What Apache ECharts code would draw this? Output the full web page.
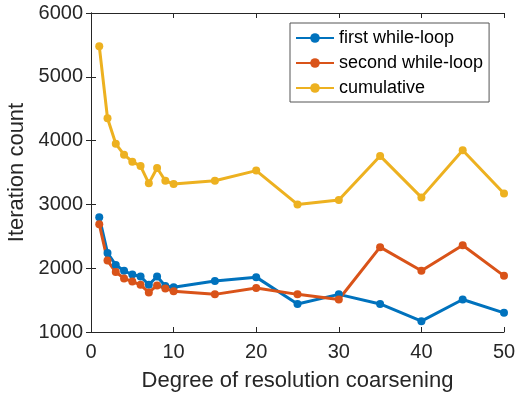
<!DOCTYPE html>
<html>
<head>
<meta charset="utf-8">
<script src="https://cdn.jsdelivr.net/npm/echarts@6/dist/echarts.min.js"></script>
<style>
  html, body { margin: 0; padding: 0; background: #fff; }
  #main { width: 515px; height: 399px; }
</style>
</head>
<body>
<div id="main"></div>
<script>
var degrees = [1, 2, 3, 4, 5, 6, 7, 8, 9, 10, 15, 20, 25, 30, 35, 40, 45, 50];
var firstLoop = [2800, 2240, 2050, 1960, 1900, 1870, 1740, 1870, 1720, 1700, 1800, 1860, 1440, 1590, 1440, 1170, 1510, 1300];
var secondLoop = [2690, 2120, 1940, 1840, 1790, 1740, 1620, 1730, 1680, 1640, 1590, 1690, 1590, 1510, 2330, 1960, 2360, 1880];
var cumulative = [5480, 4350, 3950, 3780, 3670, 3600, 3330, 3570, 3370, 3320, 3370, 3530, 3000, 3070, 3760, 3110, 3850, 3170];
var xTicks = [0, 10, 20, 30, 40, 50];
var yTicks = [1000, 2000, 3000, 4000, 5000, 6000];

var chartDom = document.getElementById("main");
var myChart = echarts.init(chartDom);
var font = "Liberation Sans";
var ink = "#262626";

function pairs(ys) {
    var out = [];
    for (let i = 0; i < degrees.length; i++) {
        out.push([degrees[i], ys[i]]);
    }
    return out;
}

function makeSeries(name, ys, color) {
    return {
        name: name,
        type: "line",
        xAxisIndex: 0,
        yAxisIndex: 0,
        data: pairs(ys),
        symbol: "circle",
        symbolSize: 8,
        lineStyle: { width: 3, color: color },
        itemStyle: { color: color },
        animation: false,
    };
}

var axisCommon = {
    type: "value",
    axisLine: { show: true, lineStyle: { color: ink, width: 1 } },
    axisTick: { show: true, inside: true, length: 5, lineStyle: { color: ink } },
    splitLine: { show: false },
};

var option = {
    backgroundColor: "#fff",
    textStyle: { fontFamily: font },
    grid: { left: 91, right: 11, top: 13, bottom: 67, outerBoundsMode: "none", containLabel: false },
    legend: {
        orient: "vertical",
        left: 290,
        top: 23,
        padding: [6, 6, 5, 5],
        itemWidth: 38,
        itemHeight: 12,
        itemGap: 7,
        borderColor: "#555",
        borderWidth: 1,
        backgroundColor: "#fff",
        textStyle: { fontFamily: font, fontSize: 18, color: "#000", lineHeight: 18 },
        data: ["first while-loop", "second while-loop", "cumulative"],
    },
    xAxis: [
        Object.assign({}, axisCommon, {
            position: "bottom",
            min: xTicks[0],
            max: xTicks[xTicks.length - 1],
            interval: 10,
            name: "Degree of resolution coarsening",
            nameLocation: "middle",
            nameGap: 38,
            nameTextStyle: { fontFamily: font, fontSize: 22, color: ink },
            axisLabel: { fontFamily: font, fontSize: 20, color: ink, margin: 10 },
        }),
        Object.assign({}, axisCommon, {
            position: "top",
            min: xTicks[0],
            max: xTicks[xTicks.length - 1],
            interval: 10,
            axisLabel: { show: false },
        }),
    ],
    yAxis: [
        Object.assign({}, axisCommon, {
            position: "left",
            min: yTicks[0],
            max: yTicks[yTicks.length - 1],
            interval: 1000,
            name: "Iteration count",
            nameLocation: "middle",
            nameGap: 62,
            nameTextStyle: { fontFamily: font, fontSize: 22, color: ink },
            axisLabel: {
                fontFamily: font,
                fontSize: 20,
                color: ink,
                margin: 8,
                formatter: function (value) {
                    return String(value);
                },
            },
        }),
        Object.assign({}, axisCommon, {
            position: "right",
            min: yTicks[0],
            max: yTicks[yTicks.length - 1],
            interval: 1000,
            axisLabel: { show: false },
        }),
    ],
    series: [
        makeSeries("first while-loop", firstLoop, "#0072BD"),
        makeSeries("second while-loop", secondLoop, "#D95319"),
        makeSeries("cumulative", cumulative, "#EDB120"),
    ],
};

option && myChart.setOption(option);
</script>
</body>
</html>
